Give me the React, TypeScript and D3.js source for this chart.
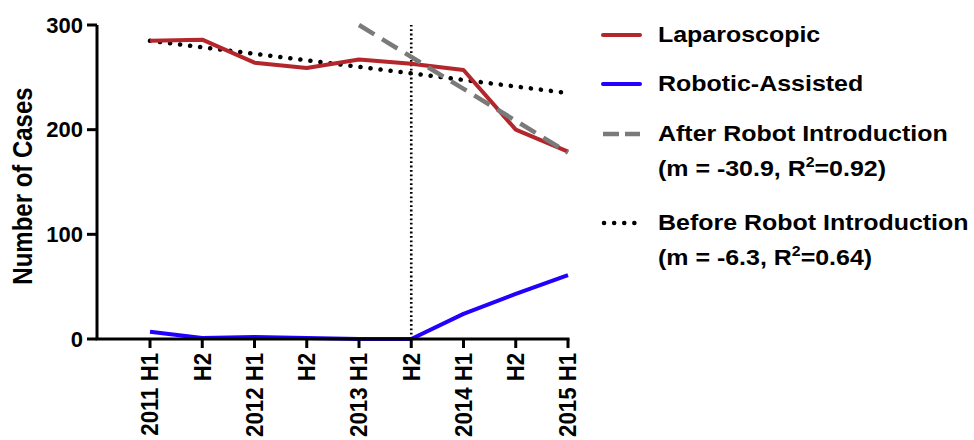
import React from "react";
import * as d3 from "d3";

const categories = ["2011 H1", "H2", "2012 H1", "H2 ", "2013 H1", "H2  ", "2014 H1", "H2   ", "2015 H1"];
const laparoscopic = [285, 286, 264, 259, 267, 263, 257, 200, 179];
const robotic = [7, 1, 2, 1, 0, 0, 24, 43, 61];
const beforeTrendCats = ["2011 H1", "2015 H1"];
const beforeTrendVals = [285, 235];
const afterTrendCats = ["2013 H1", "2015 H1"];
const afterTrendVals = [300, 178];
const introCat = "H2  ";
const yTicks = [0, 100, 200, 300];

const FONT = "'Liberation Sans', Arial, Helvetica, sans-serif";
const RED = "#B3262B";
const BLUE = "#2200FF";
const GRAY = "#7A7A7A";

export default function App() {
  const W = 974, H = 440;
  const x = d3.scalePoint<string>().domain(categories).range([150, 568]);
  const y = d3.scaleLinear().domain([0, 300]).range([339, 25]);
  const xAxisStart = 97;

  const line = d3.line<[string, number]>().x(d => x(d[0]) as number).y(d => y(d[1]));
  const lapPts = categories.map((c, i) => [c, laparoscopic[i]] as [string, number]);
  const robPts = categories.map((c, i) => [c, robotic[i]] as [string, number]);
  const beforePts = beforeTrendCats.map((c, i) => [c, beforeTrendVals[i]] as [string, number]);
  const afterPts = afterTrendCats.map((c, i) => [c, afterTrendVals[i]] as [string, number]);

  const sx = 1.135;
  const legendX = 658;
  const lx1 = 603, lx2 = 640;

  const legendText = (yy: number, content: React.ReactNode, key: string) => (
    <text key={key} transform={`translate(${legendX},${yy}) scale(${sx},1)`} fontSize={22} fontWeight="bold"
      fontFamily={FONT} dominantBaseline="central" fill="#000">{content}</text>
  );

  return (
    <svg width={W} height={H} style={{ position: "absolute", left: 0, top: 0, background: "#fff" }}>
      {/* trend lines */}
      <path d={line(beforePts) || ""} fill="none" stroke="#000" strokeWidth={4.5} strokeDasharray="0.1 10" strokeLinecap="round" />
      {/* vertical introduction line */}
      <line x1={x(introCat)} x2={x(introCat)} y1={y(0)} y2={y(300)} stroke="#000" strokeWidth={2.6} strokeDasharray="1.8 2.6" />
      {/* data lines */}
      <path d={line(lapPts) || ""} fill="none" stroke={RED} strokeWidth={4} strokeLinejoin="round" />
      <path d={line(robPts) || ""} fill="none" stroke={BLUE} strokeWidth={4} strokeLinejoin="round" />
      <path d={line(afterPts) || ""} fill="none" stroke={GRAY} strokeWidth={4.5} strokeDasharray="18 9" />

      {/* y axis */}
      <line x1={xAxisStart} x2={xAxisStart} y1={y(300)} y2={y(0)} stroke="#000" strokeWidth={3} />
      {yTicks.map(t => (
        <g key={t}>
          <line x1={xAxisStart - 10} x2={xAxisStart} y1={y(t)} y2={y(t)} stroke="#000" strokeWidth={3} />
          <text x={xAxisStart - 14} y={y(t)} textAnchor="end" dominantBaseline="central" fontSize={22}
            fontWeight="bold" fontFamily={FONT}>{t}</text>
        </g>
      ))}
      <text transform={`translate(22,186) scale(1.14,1) rotate(-90)`} textAnchor="middle" dominantBaseline="central"
        fontSize={24} fontWeight="bold" fontFamily={FONT}>Number of Cases</text>

      {/* x axis */}
      <line x1={xAxisStart - 1.5} x2={568 + 1.5} y1={y(0)} y2={y(0)} stroke="#000" strokeWidth={3} />
      {categories.map(c => (
        <g key={c}>
          <line x1={x(c)} x2={x(c)} y1={y(0)} y2={y(0) + 9} stroke="#000" strokeWidth={3} />
          <text transform={`translate(${x(c)},${y(0) + 14}) scale(1.08,1) rotate(-90)`} textAnchor="end" dominantBaseline="central"
            fontSize={22.2} fontWeight="bold" fontFamily={FONT}>{c.trim()}</text>
        </g>
      ))}

      {/* legend */}
      <line x1={lx1} x2={lx2} y1={35} y2={35} stroke={RED} strokeWidth={4} strokeLinecap="round" />
      {legendText(35, "Laparoscopic", "l1")}
      <line x1={lx1} x2={lx2} y1={84} y2={84} stroke={BLUE} strokeWidth={4} strokeLinecap="round" />
      {legendText(84, "Robotic-Assisted", "l2")}
      <line x1={lx1} x2={lx2} y1={134} y2={134} stroke={GRAY} strokeWidth={4.5} strokeDasharray="16 6" />
      {legendText(134, "After Robot Introduction", "l3")}
      {legendText(169, <>(m = -30.9, R<tspan fontSize={14} dy={-8}>2</tspan><tspan dy={8}>=0.92)</tspan></>, "l4")}
      <line x1={lx1 + 1} x2={lx2 - 4} y1={223} y2={223} stroke="#000" strokeWidth={4.5} strokeDasharray="0.1 10" strokeLinecap="round" />
      {legendText(223, "Before Robot Introduction", "l5")}
      {legendText(258, <>(m = -6.3, R<tspan fontSize={14} dy={-8}>2</tspan><tspan dy={8}>=0.64)</tspan></>, "l6")}
    </svg>
  );
}
